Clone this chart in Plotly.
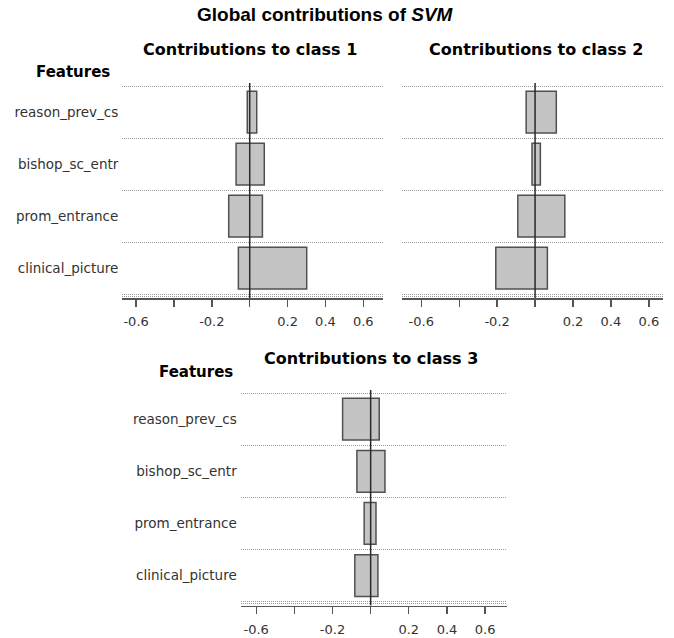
import plotly.graph_objects as go

# ---- data ----
features = ["reason_prev_cs", "bishop_sc_entr", "prom_entrance", "clinical_picture"]  # top -> bottom
class1_min = [-0.013, -0.072, -0.111, -0.060]
class1_max = [0.037, 0.077, 0.067, 0.301]
class2_min = [-0.047, -0.016, -0.091, -0.207]
class2_max = [0.112, 0.028, 0.157, 0.065]
class3_min = [-0.147, -0.072, -0.034, -0.083]
class3_max = [0.045, 0.075, 0.028, 0.038]
tick_vals = [-0.6, -0.4, -0.2, 0, 0.2, 0.4, 0.6]
tick_text = ["-0.6", "", "-0.2", "", "0.2", "0.4", "0.6"]
panel_titles = ["Contributions to class 1", "Contributions to class 2", "Contributions to class 3"]
main_title = "<b>Global contributions of <i>SVM</i></b>"
feature_header = "Features"

OFF = 0  # body margin removed via post_script
W, H = 674 - OFF, 638 - OFF
FONT = "DejaVu Sans"

def px_x(p):
    return (p - OFF) / W

def px_y(p):
    return 1 - (p - OFF) / H

panels = [
    dict(mins=class1_min, maxs=class1_max, xd=(122.3, 383.0), yd=(83, 298), xr=(-0.673, 0.704), labels=True),
    dict(mins=class2_min, maxs=class2_max, xd=(401.7, 663.3), yd=(83, 298), xr=(-0.703, 0.676), labels=False),
    dict(mins=class3_min, maxs=class3_max, xd=(240.7, 506.7), yd=(390, 605.5), xr=(-0.681, 0.713), labels=True),
]

ypos = list(range(len(features) - 1, -1, -1))  # top feature gets highest index
boundaries = [-0.54, -0.5, 0.5, 1.5, 2.5, 3.5]

fig = go.Figure()
layout = dict(
    width=W, height=H, autosize=False,
    margin=dict(l=0, r=0, t=0, b=0),
    paper_bgcolor="white", plot_bgcolor="white",
    showlegend=False,
    font=dict(family=FONT, color="#333333"),
)
shapes = []
annotations = []

for i, p in enumerate(panels):
    n = i + 1
    xa = "x" if n == 1 else f"x{n}"
    ya = "y" if n == 1 else f"y{n}"
    widths = [mx - mn for mn, mx in zip(p["mins"], p["maxs"])]
    fig.add_trace(go.Bar(
        x=widths, base=p["mins"], y=ypos, orientation="h", width=0.8,
        marker=dict(color="#c4c4c4", line=dict(color="#505050", width=1.5)),
        xaxis=xa, yaxis=ya, hoverinfo="skip",
    ))
    layout[f"xaxis{n if n > 1 else ''}"] = dict(
        domain=[px_x(p["xd"][0]), px_x(p["xd"][1])],
        range=list(p["xr"]), anchor=ya,
        tickmode="array", tickvals=tick_vals, ticktext=tick_text,
        ticks="outside", ticklen=7, tickwidth=1.3, tickcolor="#555555",
        showline=True, linecolor="#555555", linewidth=1.5,
        showgrid=False, zeroline=False,
        tickfont=dict(family=FONT, size=13, color="#333333"),
        ticklabelstandoff=4,
    )
    layout[f"yaxis{n if n > 1 else ''}"] = dict(
        domain=[px_y(p["yd"][1]), px_y(p["yd"][0])],
        range=[-0.575, 3.56], anchor=xa,
        tickmode="array", tickvals=ypos, ticktext=features if p["labels"] else [""] * len(features),
        showticklabels=p["labels"], ticks="",
        showline=False, showgrid=False, zeroline=False,
        tickfont=dict(family=FONT, size=13.5, color="#333333"),
        ticklabelstandoff=3,
        minor=dict(tickmode="array", tickvals=boundaries, showgrid=True, griddash="1px,1px",
                   gridcolor="#9a9a9a", gridwidth=1, ticks=""),
    )
    shapes.append(dict(type="line", xref=xa, yref=f"{ya} domain", x0=0, x1=0, y0=0, y1=1,
                       line=dict(color="#2a2a2a", width=1.5), layer="above"))

# titles
annotations.append(dict(text=main_title, x=px_x(325.5), y=px_y(15), xref="paper", yref="paper",
                        showarrow=False, xanchor="center", yanchor="middle",
                        font=dict(family="Liberation Sans", size=19, color="black")))
title_pos = [(250, 50), (536, 50), (371, 358)]
for t, (cx, cy) in zip(panel_titles, title_pos):
    annotations.append(dict(text=f"<b>{t}</b>", x=px_x(cx), y=px_y(cy), xref="paper", yref="paper",
                            showarrow=False, xanchor="center", yanchor="middle",
                            font=dict(family=FONT, size=16, color="black")))
for (cx, cy) in [(72.5, 72), (195.5, 372)]:
    annotations.append(dict(text=f"<b>{feature_header}</b>", x=px_x(cx), y=px_y(cy), xref="paper", yref="paper",
                            showarrow=False, xanchor="center", yanchor="middle",
                            font=dict(family=FONT, size=15, color="black")))

layout["shapes"] = shapes
layout["annotations"] = annotations
fig.update_layout(**layout)
fig.write_html("out.html", config={"displayModeBar": False, "staticPlot": True},
               post_script="document.body.style.margin='0';document.body.style.overflow='hidden';")
